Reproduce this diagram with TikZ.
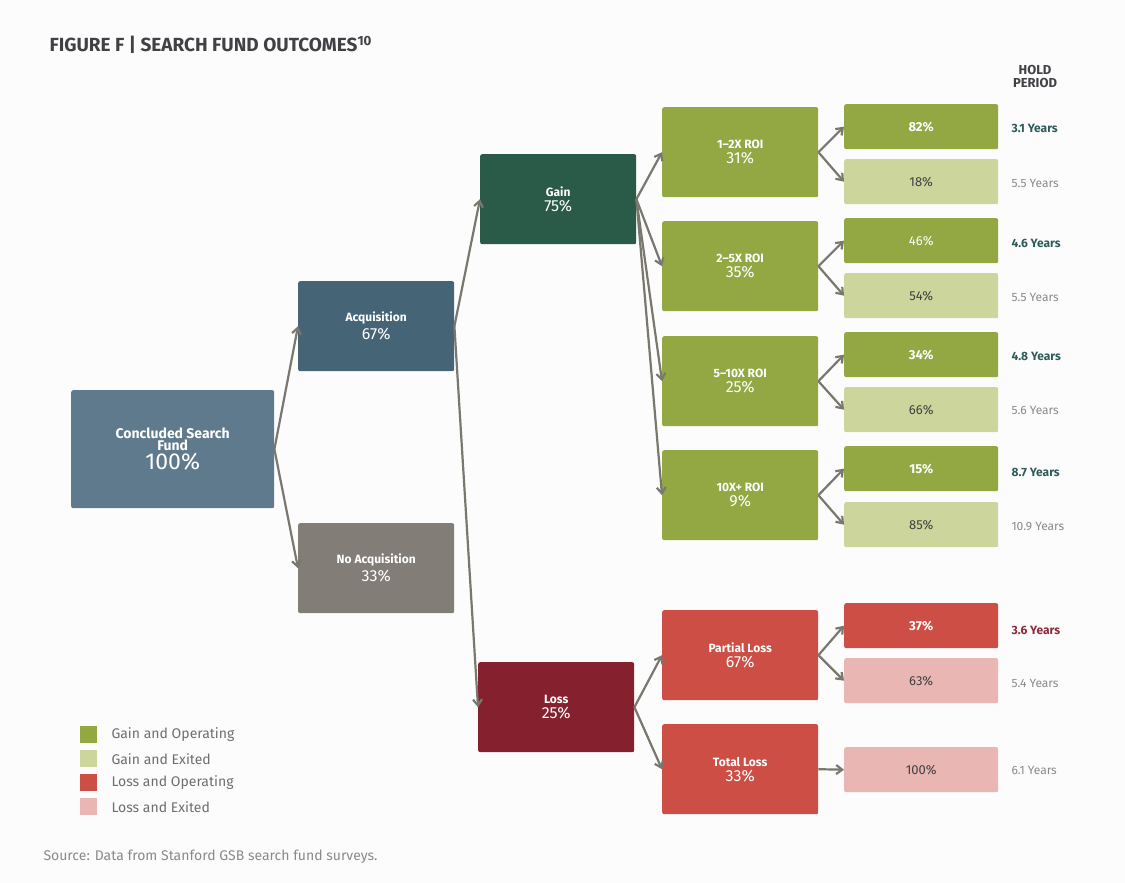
\documentclass[tikz,border=0pt]{standalone}
\usepackage{fontspec}
\setmainfont{Fira Sans}
\usetikzlibrary{arrows.meta}
\definecolor{bg}{HTML}{FDFCFD}
\definecolor{cCon}{HTML}{5F7A8C}
\definecolor{cAcq}{HTML}{456577}
\definecolor{cNo}{HTML}{827D76}
\definecolor{cGain}{HTML}{2A5A48}
\definecolor{cLoss}{HTML}{85212F}
\definecolor{gOp}{HTML}{93A843}
\definecolor{gEx}{HTML}{CBD59C}
\definecolor{lOp}{HTML}{CC4E45}
\definecolor{lEx}{HTML}{E9B6B3}
\definecolor{arr}{HTML}{7A776E}
\definecolor{teal}{HTML}{2E5B5A}
\definecolor{redt}{HTML}{8B2A3A}
\definecolor{greyt}{HTML}{8A8A8A}
\definecolor{titlec}{HTML}{3F4144}
\newcommand\mylb[1]{{\bfseries\fontsize{12}{14}\selectfont #1}}
\newcommand\mypc[1]{{\fontsize{16}{18}\selectfont #1}}
\newcommand\myhd[1]{{\bfseries\fontsize{14}{17}\selectfont #1}}
\newcommand\mybig[1]{{\fontsize{23}{25}\selectfont #1}}
\begin{document}
\begin{tikzpicture}[x=1pt,y=-1pt,
  box/.style={rounded corners=2pt,text=white,align=center,inner sep=0pt,anchor=north west},
  mid/.style={box,minimum width=156pt,minimum height=90pt},
  leaf/.style={box,minimum width=154pt,minimum height=45pt,font=\fontsize{13}{15}\selectfont},
  boldleaf/.style={leaf,font=\bfseries\fontsize{13}{15}\selectfont},
  con/.style={draw=arr,line width=2.2pt,-{Straight Barb[length=6pt,width=9pt]}},
  yr/.style={anchor=west,text=greyt,font=\fontsize{12}{14}\selectfont},
  yrb/.style={anchor=west,font=\bfseries\fontsize{12}{14}\selectfont},
  lsq/.style={minimum size=17pt,inner sep=0pt,anchor=north west},
  lt/.style={anchor=west,text=greyt!80!black,font=\fontsize{14}{16}\selectfont}]
\fill[bg] (0,0) rectangle (1125,883);
\useasboundingbox (0,0) rectangle (1125,883);
\node[anchor=west,text=titlec,font=\bfseries\fontsize{19}{21}\selectfont] (title) at (46,45) {FIGURE F | SEARCH FUND OUTCOMES\textsuperscript{10}};
\node[text=titlec,align=center,font=\bfseries\fontsize{13}{15}\selectfont] (hold) at (1035,76) {HOLD\\[-2pt]PERIOD};
% level nodes
\node[box,fill=cCon,minimum width=203pt,minimum height=118pt] (con) at (71,390) {\myhd{Concluded Search}\\\myhd{Fund}\\[2pt]\mybig{100\%}};
\node[mid,fill=cAcq] (acq) at (298,281) {\mylb{Acquisition}\\[3pt]\mypc{67\%}};
\node[mid,fill=cNo] (noacq) at (298,523) {\mylb{No Acquisition}\\[3pt]\mypc{33\%}};
\node[mid,fill=cGain] (gain) at (480,154) {\mylb{Gain}\\[3pt]\mypc{75\%}};
\node[mid,fill=cLoss] (loss) at (478,662) {\mylb{Loss}\\[3pt]\mypc{25\%}};
\node[mid,fill=gOp] (r1) at (662,107) {\mylb{1–2X ROI}\\[3pt]\mypc{31\%}};
\node[mid,fill=gOp] (r2) at (662,221) {\mylb{2–5X ROI}\\[3pt]\mypc{35\%}};
\node[mid,fill=gOp] (r3) at (662,336) {\mylb{5–10X ROI}\\[3pt]\mypc{25\%}};
\node[mid,fill=gOp] (r4) at (662,450) {\mylb{10X+ ROI}\\[3pt]\mypc{9\%}};
\node[mid,fill=lOp] (pl) at (662,610) {\mylb{Partial Loss}\\[3pt]\mypc{67\%}};
\node[mid,fill=lOp] (tl) at (662,724) {\mylb{Total Loss}\\[3pt]\mypc{33\%}};
% leaves
\node[boldleaf,fill=gOp] (a1) at (844,104) {82\%};
\node[leaf,fill=gEx,text=black!75] (b1) at (844,159) {18\%};
\node[leaf,fill=gOp] (a2) at (844,218) {46\%};
\node[leaf,fill=gEx,text=black!75] (b2) at (844,273) {54\%};
\node[boldleaf,fill=gOp] (a3) at (844,332) {34\%};
\node[leaf,fill=gEx,text=black!75] (b3) at (844,387) {66\%};
\node[boldleaf,fill=gOp] (a4) at (844,446) {15\%};
\node[leaf,fill=gEx,text=black!75] (b4) at (844,502) {85\%};
\node[boldleaf,fill=lOp] (a5) at (844,603) {37\%};
\node[leaf,fill=lEx,text=black!75] (b5) at (844,658) {63\%};
\node[leaf,fill=lEx,text=black!75] (b6) at (844,747) {100\%};
% years
\node[yrb,text=teal] (y1) at (1008,128) {3.1 Years};
\node[yr] (y2) at (1008,183) {5.5 Years};
\node[yrb,text=teal] (y3) at (1008,243) {4.6 Years};
\node[yr] (y4) at (1008,297) {5.5 Years};
\node[yrb,text=teal] (y5) at (1008,356) {4.8 Years};
\node[yr] (y6) at (1008,410) {5.6 Years};
\node[yrb,text=teal] (y7) at (1008,472) {8.7 Years};
\node[yr] (y8) at (1008,526) {10.9 Years};
\node[yrb,text=redt] (y9) at (1008,630) {3.6 Years};
\node[yr] (y10) at (1008,683) {5.4 Years};
\node[yr] (y11) at (1008,770) {6.1 Years};
% connectors
\draw[con] (con.east) -- (acq.west);
\draw[con] (con.east) -- (noacq.west);
\draw[con] (acq.east) -- (gain.west);
\draw[con] (acq.east) -- (loss.west);
\foreach \t in {r1,r2,r3,r4} \draw[con] (gain.east) -- (\t.west);
\draw[con] (loss.east) -- (pl.west);
\draw[con] (loss.east) -- (tl.west);
\draw[con] (r1.east) -- (a1.west); \draw[con] (r1.east) -- (b1.west);
\draw[con] (r2.east) -- (a2.west); \draw[con] (r2.east) -- (b2.west);
\draw[con] (r3.east) -- (a3.west); \draw[con] (r3.east) -- (b3.west);
\draw[con] (r4.east) -- (a4.west); \draw[con] (r4.east) -- (b4.west);
\draw[con] (pl.east) -- (a5.west); \draw[con] (pl.east) -- (b5.west);
\draw[con] (tl.east) -- (b6.west);
% legend
\node[lsq,fill=gOp] (s1) at (80,726) {};
\node[lsq,fill=gEx] (s2) at (80,750) {};
\node[lsq,fill=lOp] (s3) at (80,774) {};
\node[lsq,fill=lEx] (s4) at (80,798) {};
\node[lt] (t1) at (108,735) {Gain and Operating};
\node[lt] (t2) at (108,759) {Gain and Exited};
\node[lt] (t3) at (108,783) {Loss and Operating};
\node[lt] (t4) at (108,807) {Loss and Exited};
\node[anchor=west,text=greyt,font=\fontsize{14}{16}\selectfont] (src) at (40,857) {Source: Data from Stanford GSB search fund surveys.};
\end{tikzpicture}
\end{document}
